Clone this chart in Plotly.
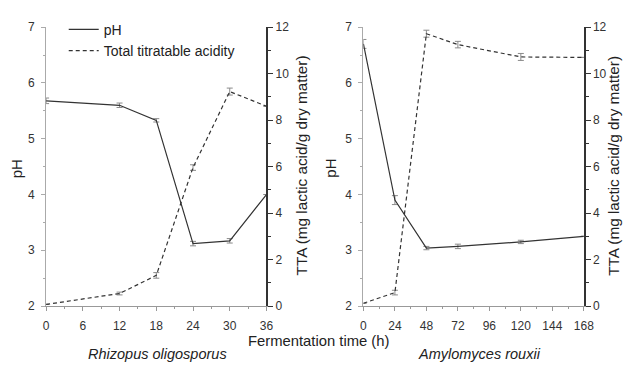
import plotly.graph_objects as go

# Rhizopus oligosporus
time_r = [0, 12, 18, 24, 30, 36]
ph_r = [5.68, 5.60, 5.33, 3.12, 3.17, 4.0]
ph_r_err = [0.05, 0.04, 0.03, 0.04, 0.04, 0.0]
tta_r = [0.07, 0.54, 1.32, 5.96, 9.23, 8.6]
tta_r_err = [0.0, 0.06, 0.12, 0.12, 0.15, 0.0]

# Amylomyces rouxii
time_a = [0, 24, 48, 72, 120, 168]
ph_a = [6.70, 3.90, 3.04, 3.07, 3.15, 3.25]
ph_a_err = [0.08, 0.08, 0.03, 0.04, 0.03, 0.0]
tta_a = [0.12, 0.58, 11.72, 11.25, 10.72, 10.7]
tta_a_err = [0.0, 0.1, 0.15, 0.14, 0.15, 0.0]

x_ticks_r = [0, 6, 12, 18, 24, 30, 36]
x_ticks_a = [0, 24, 48, 72, 96, 120, 144, 168]

FONT = "Liberation Sans, Arial, sans-serif"
LINE = "#333333"
ERR = "#8a8a8a"

fig = go.Figure()

def add(x, y, err, xa, ya, dash, name, show):
    fig.add_trace(go.Scatter(
        x=x, y=y, xaxis=xa, yaxis=ya, mode="lines", name=name, showlegend=show,
        line=dict(color=LINE, width=1.2, dash=dash),
        error_y=dict(type="data", array=err, visible=True, color=ERR, thickness=1, width=3),
    ))

DASH = "4px,3px"
add(time_r, ph_r, ph_r_err, "x", "y", "solid", "pH", True)
add(time_r, tta_r, tta_r_err, "x", "y2", DASH, "Total titratable acidity", True)
add(time_a, ph_a, ph_a_err, "x2", "y3", "solid", "pH", False)
add(time_a, tta_a, tta_a_err, "x2", "y4", DASH, "Total titratable acidity", False)

W, H = 632, 365
yb, yt = (H - 311) / H, (H - 21) / H
tickfont = dict(family=FONT, size=12, color="#333")

def xax(dom, ticks, rng, minor, anchor):
    return dict(domain=dom, range=rng, tickvals=ticks, anchor=anchor,
                showline=True, linecolor="#999", linewidth=1, ticks="outside",
                ticklen=4, tickcolor="#999", showgrid=False, zeroline=False,
                ticklabelstandoff=5,
                tickfont=tickfont, minor=dict(dtick=minor, ticklen=2, tickcolor="#999", ticks="outside"))

def yl(anchor):
    return dict(domain=[yb, yt], range=[2, 7], dtick=1, anchor=anchor,
                showline=True, linecolor="#aaa", linewidth=1, ticks="outside",
                ticklen=4, tickcolor="#aaa", showgrid=False, zeroline=False,
                ticklabelstandoff=4,
                tickfont=tickfont, minor=dict(dtick=0.5, ticklen=2, tickcolor="#aaa", ticks="outside"))

def yr(anchor, over):
    return dict(range=[0, 12], dtick=2, anchor=anchor, overlaying=over, side="right",
                showline=True, linecolor="#333", linewidth=1.5, ticks="outside",
                ticklen=5, tickcolor="#333", showgrid=False, zeroline=False,
                tickfont=tickfont, minor=dict(dtick=1, ticklen=3, tickcolor="#333", ticks="outside"))

fig.update_layout(
    width=W, height=H, margin=dict(l=0, r=0, t=0, b=0),
    paper_bgcolor="white", plot_bgcolor="white",
    font=dict(family=FONT, color="#222"),
    xaxis=xax([44 / W, 269 / W], x_ticks_r, [0, 36], 3, "y"),
    xaxis2=xax([368 / W, 593 / W], x_ticks_a, [0, 168], 12, "y3"),
    yaxis=yl("x"),
    yaxis2=yr("x", "y"),
    yaxis3=yl("x2"),
    yaxis4=yr("x2", "y3"),
    legend=dict(x=62 / W, y=1 - 7 / H, xanchor="left", yanchor="top",
                bgcolor="rgba(0,0,0,0)", font=dict(family=FONT, size=14, color="#222"),
                tracegroupgap=0, itemwidth=30),
    showlegend=True,
)

ann = [
    dict(text="pH", x=14 / W, y=1 - 168 / H, textangle=-90, size=15),
    dict(text="pH", x=334 / W, y=1 - 168 / H, textangle=-90, size=15),
    dict(text="TTA (mg lactic acid/g dry matter)", x=305 / W, y=1 - 165 / H, textangle=-90, size=15.3),
    dict(text="TTA (mg lactic acid/g dry matter)", x=624 / W, y=1 - 165 / H, textangle=-90, size=15.3),
    dict(text="Fermentation time (h)", x=323 / W, y=1 - 347 / H, textangle=0, size=14.8),
    dict(text="<i>Rhizopus oligosporus</i>", x=158 / W, y=1 - 361 / H, textangle=0, size=14.5),
    dict(text="<i>Amylomyces rouxii</i>", x=486 / W, y=1 - 361 / H, textangle=0, size=14.5),
]
for a in ann:
    fig.add_annotation(text=a["text"], x=a["x"], y=a["y"], xref="paper", yref="paper",
                       showarrow=False, textangle=a["textangle"], xanchor="center", yanchor="middle",
                       font=dict(family=FONT, size=a["size"], color="#222"))

fig.write_html("out.html")
